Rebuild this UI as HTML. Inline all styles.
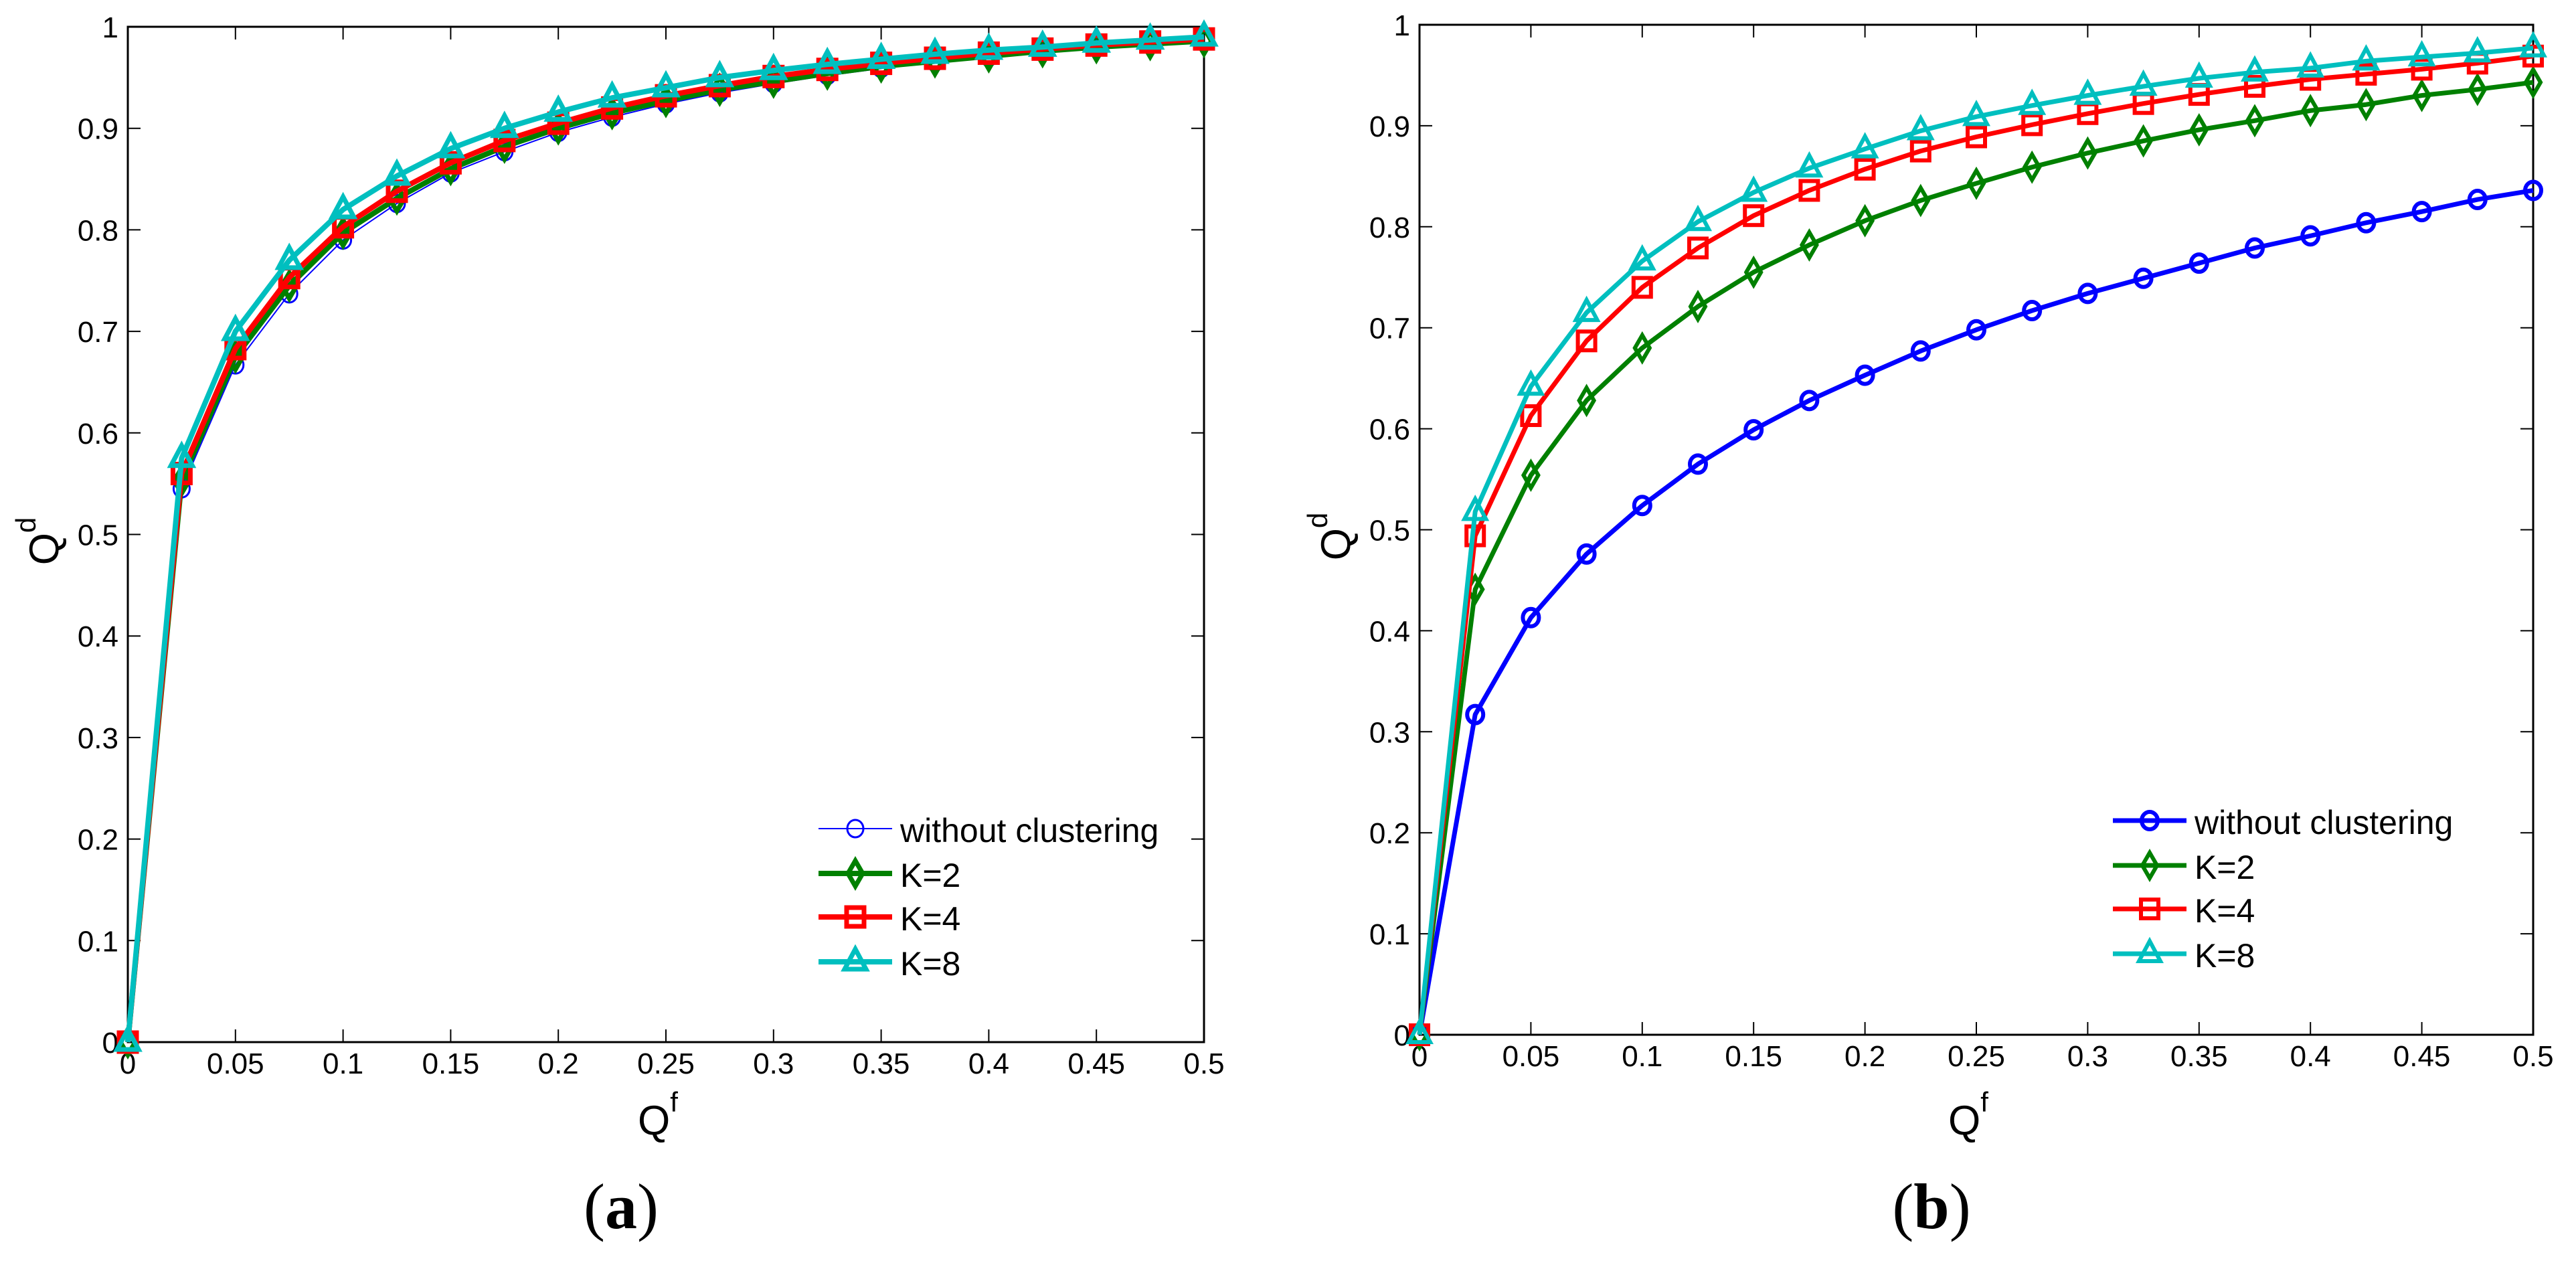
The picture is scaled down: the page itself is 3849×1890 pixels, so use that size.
<!DOCTYPE html>
<html><head><meta charset="utf-8"><style>
html,body{margin:0;padding:0;background:#fff}
svg{display:block}
text{font-family:"Liberation Sans",sans-serif;fill:#000}
</style></head><body>
<svg id="fig" width="3849" height="1890" viewBox="0 0 3849 1890" xmlns="http://www.w3.org/2000/svg"></svg>
<script>
const xValues=[0,0.025,0.05,0.075,0.1,0.125,0.15,0.175,0.2,0.225,0.25,0.275,0.3,0.325,0.35,0.375,0.4,0.425,0.45,0.475,0.5];
const xTickLabels=["0","0.05","0.1","0.15","0.2","0.25","0.3","0.35","0.4","0.45","0.5"];
const yTickLabels=["0","0.1","0.2","0.3","0.4","0.5","0.6","0.7","0.8","0.9","1"];
const seriesNames=["without clustering","K=2","K=4","K=8"];
const aWithout=[0,.545,.667,.737,.790,.826,.856,.877,.896,.911,.924,.935,.944,.952,.959,.965,.970,.975,.979,.983,.986];
const aK2=[0,.553,.675,.745,.797,.831,.860,.882,.900,.915,.927,.938,.946,.954,.961,.966,.971,.976,.980,.983,.986];
const aK4=[0,.560,.683,.753,.803,.838,.866,.888,.905,.920,.932,.942,.951,.958,.964,.969,.974,.978,.982,.985,.988];
const aK8=[0,.575,.700,.770,.820,.853,.880,.900,.916,.930,.940,.950,.957,.963,.968,.973,.977,.980,.984,.987,.990];
const bWithout=[0,.317,.413,.476,.524,.565,.599,.628,.653,.677,.698,.717,.734,.749,.764,.779,.791,.804,.815,.827,.836];
const bK2=[0,.441,.554,.628,.680,.721,.755,.782,.806,.826,.843,.859,.873,.885,.896,.905,.915,.921,.930,.936,.943];
const bK4=[0,.494,.613,.687,.740,.779,.811,.836,.857,.875,.889,.901,.912,.922,.931,.939,.946,.951,.956,.962,.969];
const bK8=[0,.518,.642,.715,.766,.805,.834,.858,.877,.895,.909,.920,.930,.939,.947,.953,.957,.964,.968,.972,.977];

const NS="http://www.w3.org/2000/svg";
const svg=document.getElementById('fig');
function mk(tag,attrs,parent){const e=document.createElementNS(NS,tag);for(const k in attrs)e.setAttribute(k,attrs[k]);(parent||svg).appendChild(e);return e;}

const colors=["#0000ff","#008000","#ff0000","#00bfbf"];
const shapes=["circle","diamond","square","triangle"];

function marker(g,shape,cx,cy,col,sw){
  let e;
  if(shape==="circle"){e=mk('ellipse',{cx:cx,cy:cy,rx:12,ry:13,fill:'none',stroke:col,'stroke-width':sw},g);}
  else if(shape==="diamond"){e=mk('polygon',{points:`${cx},${cy-19} ${cx+11},${cy} ${cx},${cy+19} ${cx-11},${cy}`,fill:'none',stroke:col,'stroke-width':sw},g);}
  else if(shape==="square"){e=mk('rect',{x:cx-13,y:cy-14,width:26,height:28,fill:'none',stroke:col,'stroke-width':sw},g);}
  else {e=mk('polygon',{points:`${cx},${cy-19} ${cx+16},${cy+11} ${cx-16},${cy+11}`,fill:'none',stroke:col,'stroke-width':sw},g);}
  
  
}

function panel(id,L,R,T,B,series,widths,msw,legX,legY,label){
  const g=mk('g',{});
  
  
  const xs=v=>L+(v/0.5)*(R-L);
  const ys=v=>B-v*(B-T);
  const frame=mk('rect',{x:L,y:T,width:R-L,height:B-T,fill:'none',stroke:'#000','stroke-width':3},g);
  
  
  xTickLabels.forEach((t,i)=>{
    const x=xs(parseFloat(t));
    mk('line',{x1:x,y1:B,x2:x,y2:B-19,stroke:'#000','stroke-width':2},g);
    mk('line',{x1:x,y1:T,x2:x,y2:T+19,stroke:'#000','stroke-width':2},g);
    const tx=mk('text',{x:x,y:B+47,'font-size':44,'text-anchor':'middle'},g);
    tx.textContent=t;
    
    
  });
  yTickLabels.forEach((t,i)=>{
    const y=ys(parseFloat(t));
    mk('line',{x1:L,y1:y,x2:L+19,y2:y,stroke:'#000','stroke-width':2},g);
    mk('line',{x1:R,y1:y,x2:R-19,y2:y,stroke:'#000','stroke-width':2},g);
    const tx=mk('text',{x:L-14,y:y+16,'font-size':44,'text-anchor':'end'},g);
    tx.textContent=t;
    
    
  });
  series.forEach((arr,si)=>{
    const s=mk('g',{},g);
    
    
    const pts=arr.map((v,i)=>xs(xValues[i])+','+ys(v)).join(' ');
    const pl=mk('polyline',{points:pts,fill:'none',stroke:colors[si],'stroke-width':widths[si],'stroke-linejoin':'round'},s);
    
    
    arr.forEach((v,i)=>marker(s,shapes[si],xs(xValues[i]),ys(v),colors[si],msw[si]));
  });
  // legend
  const lg=mk('g',{},g);
  
  
  const rows=[0,67,132,199];
  seriesNames.forEach((n,si)=>{
    const y=legY+rows[si];
    const e=mk('g',{},lg);
    
    
    mk('line',{x1:legX,y1:y,x2:legX+110,y2:y,stroke:colors[si],'stroke-width':widths[si]},e);
    marker(e,shapes[si],legX+55,y,colors[si],msw[si]);
    const t=mk('text',{x:legX+122,y:y+20,'font-size':50},e);
    t.textContent=n;
    
    
  });
  const cx=(L+R)/2;
  const xl=mk('text',{x:cx-12,y:1695,'font-size':62,'text-anchor':'middle'},g);
  
  
  xl.innerHTML='Q<tspan font-size="42" dy="-34">f</tspan>';
  const yl=mk('text',{x:0,y:0,'font-size':62,'text-anchor':'middle',transform:`translate(${L-104},${(T+B)/2+10}) rotate(-90)`},g);
  
  
  yl.innerHTML='Q<tspan font-size="42" dy="-34">d</tspan>';
  const pl=mk('text',{x:cx-67,y:1835,'font-size':96,'text-anchor':'middle',style:'font-family:"Liberation Serif",serif'},g);
  
  
  pl.innerHTML='(<tspan font-weight="bold">'+label+'</tspan>)';
}

panel('a',191,1799,40,1557,[aWithout,aK2,aK4,aK8],[2,8,8,8],[3,7,7,7],1223,1238,'a');
panel('b',2121,3785,37,1546,[bWithout,bK2,bK4,bK8],[7,7,7,7],[6,6,6,6],3157,1226,'b');
</script>
</body></html>
